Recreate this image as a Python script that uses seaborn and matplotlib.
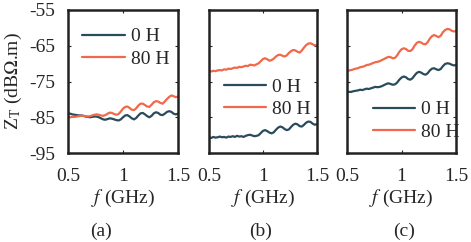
import numpy as np
import pandas as pd
import seaborn as sns
import matplotlib
matplotlib.use('Agg')
import matplotlib.pyplot as plt

# frequency grid (GHz)
freq = np.round(np.arange(0.50, 1.501, 0.02), 2)

a_0H = [-83.9, -84.0, -84.2, -84.3, -84.4, -84.5, -84.5, -84.6, -84.8, -84.9,
        -85.0, -84.9, -84.8, -84.8, -85.0, -85.3, -85.6, -85.7, -85.5, -85.3,
        -85.4, -85.6, -85.8, -85.9, -85.6, -85.0, -84.5, -84.4, -84.8, -85.3,
        -85.6, -85.2, -84.5, -83.9, -83.8, -84.2, -84.7, -85.0, -84.6, -83.9,
        -83.6, -83.8, -84.3, -84.4, -84.0, -83.5, -83.3, -83.5, -84.0, -84.2,
        -84.0]
a_80H = [-85.0, -85.0, -84.9, -84.9, -84.8, -84.7, -84.6, -84.6, -84.7, -84.8,
         -84.7, -84.5, -84.3, -84.2, -84.3, -84.5, -84.6, -84.4, -84.0, -83.7,
         -83.8, -84.1, -84.3, -84.1, -83.4, -82.6, -82.1, -82.0, -82.4, -82.9,
         -83.0, -82.5, -81.7, -81.2, -81.2, -81.6, -82.0, -82.1, -81.5, -80.8,
         -80.5, -80.6, -81.0, -81.2, -80.6, -79.9, -79.3, -78.9, -79.1, -79.4,
         -79.2]
b_0H = [-90.6, -90.8, -90.5, -90.7, -90.6, -90.4, -90.6, -90.5, -90.7, -90.4,
        -90.5, -90.3, -90.5, -90.2, -90.4, -90.3, -90.5, -90.2, -90.0, -89.9,
        -90.1, -90.3, -90.2, -90.0, -89.4, -88.8, -88.6, -88.9, -89.3, -89.5,
        -89.2, -88.5, -87.9, -87.6, -87.8, -88.3, -88.6, -88.4, -87.7, -87.1,
        -86.8, -87.0, -87.5, -87.6, -87.1, -86.5, -86.2, -86.3, -86.8, -87.1,
        -86.9]
b_80H = [-72.1, -72.2, -72.0, -72.1, -71.9, -71.8, -71.9, -71.6, -71.7, -71.4,
         -71.5, -71.3, -71.1, -71.2, -70.9, -71.0, -70.8, -70.6, -70.7, -70.3,
         -70.4, -70.5, -70.2, -69.9, -69.3, -68.7, -68.5, -68.8, -69.2, -69.0,
         -68.6, -68.0, -67.6, -67.5, -67.8, -68.0, -67.7, -67.0, -66.5, -66.2,
         -66.3, -66.7, -66.9, -66.3, -65.5, -64.8, -64.4, -64.3, -64.6, -64.9,
         -64.8]
c_0H = [-78.0, -77.9, -77.9, -77.7, -77.6, -77.5, -77.3, -77.4, -77.2, -77.0,
        -77.1, -76.9, -76.7, -76.5, -76.6, -76.5, -76.3, -76.0, -75.7, -75.5,
        -75.7, -75.9, -75.8, -75.3, -74.5, -73.9, -73.6, -73.8, -74.3, -74.5,
        -74.1, -73.3, -72.6, -72.3, -72.5, -72.9, -73.1, -72.7, -71.9, -71.4,
        -71.3, -71.6, -71.8, -71.5, -70.7, -70.1, -69.9, -70.0, -70.3, -70.5,
        -70.4]
c_80H = [-72.1, -71.9, -71.8, -71.6, -71.4, -71.3, -71.0, -70.9, -70.7, -70.4,
         -70.3, -70.1, -69.8, -69.6, -69.5, -69.3, -69.0, -68.7, -68.4, -68.1,
         -68.2, -68.5, -68.4, -67.7, -66.7, -66.0, -65.7, -65.9, -66.4, -66.5,
         -66.0, -65.0, -64.2, -63.9, -64.1, -64.5, -64.6, -64.0, -63.0, -62.3,
         -62.0, -62.3, -62.6, -62.2, -61.2, -60.6, -60.3, -60.4, -60.8, -61.0,
         -60.9]

series_names = ['0 H', '80 H']
panel_labels = ['(a)', '(b)', '(c)']
yticks = [-55, -65, -75, -85, -95]
xticks = [0.5, 1, 1.5]

sns.set_theme(style='ticks')
plt.rcParams['font.family'] = ['Liberation Serif', 'DejaVu Serif']
plt.rcParams['mathtext.fontset'] = 'stix'

colors = {'0 H': '#2a4b5b', '80 H': '#f0694a'}

fig = plt.figure(figsize=(4.71, 2.42), dpi=100)
lefts = [68, 209, 347]
widths = [110, 108, 109]
# legend anchor (handle start x, middle of the two rows y) in axes fraction
legend_locs = [(0.13, 0.735), (0.135, 0.385), (0.235, 0.225)]
label_x = [0.30, 0.48, 0.52]

data = [(a_0H, a_80H), (b_0H, b_80H), (c_0H, c_80H)]
for k, (d0, d80) in enumerate(data):
    ax = fig.add_axes([lefts[k] / 471, 1 - 153 / 242, widths[k] / 471, 143 / 242])
    df = pd.DataFrame({'f': np.concatenate([freq, freq]),
                       'Z': np.concatenate([d0, d80]),
                       'series': [series_names[0]] * len(freq) + [series_names[1]] * len(freq)})
    sns.lineplot(data=df, x='f', y='Z', hue='series', palette=colors, ax=ax, linewidth=1.6)
    ax.set_xlim(0.5, 1.5)
    ax.set_ylim(-95, -55)
    ax.set_xticks(xticks)
    ax.set_xticklabels(['0.5', '1', '1.5'])
    ax.set_yticks(yticks)
    if k == 0:
        ax.set_yticklabels([str(t) for t in yticks])
        ax.set_ylabel(r'Z$_\mathregular{T}$ (dB$\Omega$.m)', fontsize=14, labelpad=4)
    else:
        ax.set_yticklabels([])
        ax.set_ylabel('')
    ax.set_xlabel(r'$f$ (GHz)', fontsize=14, labelpad=2)
    ax.tick_params(direction='in', length=2.5, width=0.8, labelsize=14, top=True, right=True)
    ax.tick_params(axis='x', pad=11)
    ax.tick_params(axis='y', pad=9)
    for s in ax.spines.values():
        s.set_linewidth(1.8)
        s.set_color('#222222')
    leg = ax.legend(loc='center left', bbox_to_anchor=legend_locs[k], frameon=False, fontsize=14,
                    handlelength=2.2, handletextpad=0.3, labelspacing=0.25,
                    borderaxespad=0, borderpad=0)
    for line in leg.get_lines():
        line.set_linewidth(1.6)
    ax.text(label_x[k], -0.49, panel_labels[k], transform=ax.transAxes, ha='center', va='top', fontsize=14)

fig.savefig('out.png', dpi=100)
